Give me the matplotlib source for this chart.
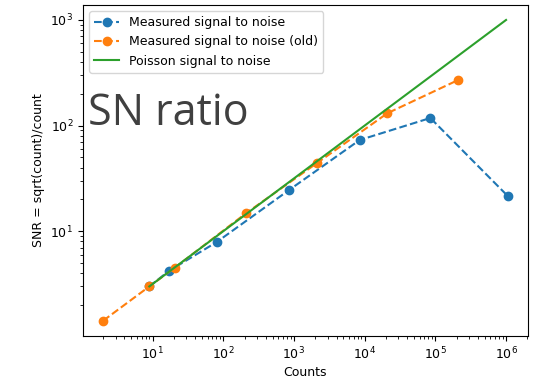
import numpy as np
import matplotlib.pyplot as plt

plt.rcParams['font.size'] = 9

# Measured signal to noise (current)
counts_new = [9, 17, 81, 850, 8500, 85000, 1.06e6]
snr_new = [3.0, 4.2, 7.9, 24.5, 73, 118, 21.5]

# Measured signal to noise (old)
counts_old = [2, 9, 20.5, 210, 2100, 21000, 210000]
snr_old = [1.42, 3.0, 4.5, 14.8, 44, 131, 270]

# Poisson reference
counts_poisson = [9, 100, 1000, 10000, 100000, 1e6]
snr_poisson = [3, 10, 31.6, 100, 316, 1000]

fig = plt.figure(figsize=(5.6, 3.79), dpi=100)
ax = fig.add_axes([0.148, 0.114, 0.795, 0.873])
ax.plot(counts_new, snr_new, 'o--', label="Measured signal to noise")
ax.plot(counts_old, snr_old, 'o--', label="Measured signal to noise (old)")
ax.plot(counts_poisson, snr_poisson, '-', label="Poisson signal to noise")
ax.set_xscale('log')
ax.set_yscale('log')
ax.set_xlabel("Counts", labelpad=3)
ax.set_ylabel("SNR = sqrt(count)/count")
ax.legend(loc="upper left")
ax.text(0.012, 0.636, "SN ratio", transform=ax.transAxes, fontsize=31,
        family="Open Sans", color="#404040", va="baseline")
fig.savefig("out.png", dpi=100)
